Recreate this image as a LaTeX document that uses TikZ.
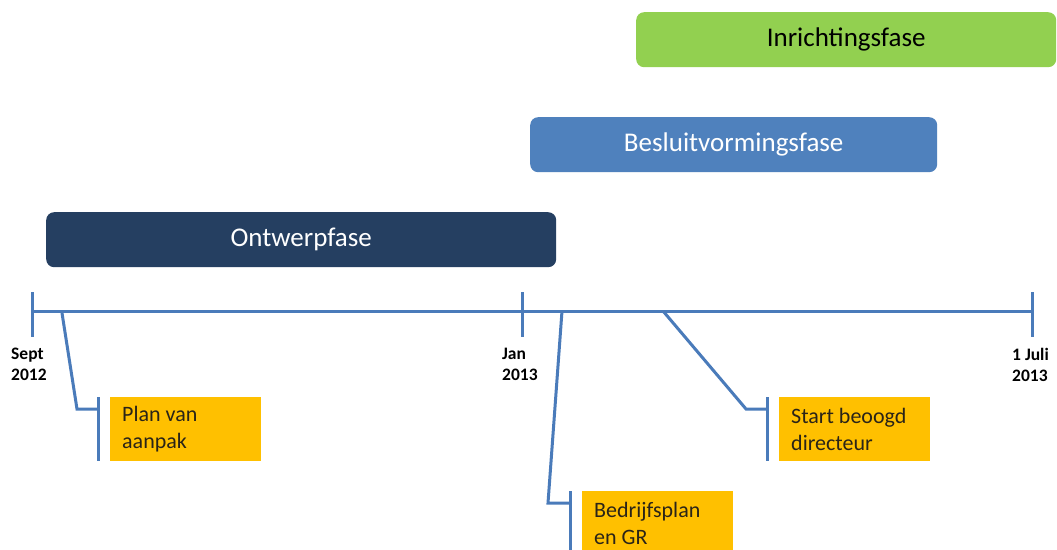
\documentclass[tikz,border=0pt]{standalone}
\usepackage{fontspec}
\setmainfont{Carlito}
\usetikzlibrary{calc}
\definecolor{lineblue}{HTML}{4A7BBA}
\definecolor{navy}{HTML}{253F61}
\definecolor{midblue}{HTML}{4F81BD}
\definecolor{phgreen}{HTML}{92D050}
\definecolor{phorange}{HTML}{FFC000}
\definecolor{darktext}{HTML}{2A2418}
\begin{document}
\begin{tikzpicture}[x=1pt,y=-1pt,
  phase/.style={rectangle, rounded corners=8pt, minimum height=55pt, inner sep=0pt, anchor=north west, font=\fontsize{27}{32}\selectfont},
  event/.style={rectangle, fill=phorange, text=darktext, anchor=north west, minimum height=64pt, text width=127pt, inner xsep=12pt, inner ysep=0pt, align=flush left, font=\fontsize{22}{27}\selectfont},
  datelbl/.style={anchor=north west, inner sep=0pt, align=flush left, font=\fontsize{17.5}{21}\selectfont\bfseries},
  axis/.style={draw=lineblue, line width=3pt},
  conn/.style={draw=lineblue, line width=3pt, line join=miter}]
\useasboundingbox (0,0) rectangle (1057,549);
\clip (0,0) rectangle (1057,549);
\fill[white] (0,0) rectangle (1057,549);

% phases
\node[phase, fill=phgreen, text=black, minimum width=420pt] (inr) at (636,12) {Inrichtingsfase};
\node[phase, fill=midblue, text=white, minimum width=407pt] (bes) at (530,117) {Besluitvormingsfase};
\node[phase, fill=navy, text=white, minimum width=510pt] (ont) at (46,212) {Ontwerpfase};

% timeline
\coordinate (t0) at (32,311);
\coordinate (t1) at (522,311);
\coordinate (t2) at (1032,311);
\draw[axis] (t0) -- (t2);
\foreach \t in {t0,t1,t2} {
  \draw[axis] ($(\t)+(0,-19)$) -- ($(\t)+(0,26)$);
}

% date labels
\node[datelbl] (d0) at (11,348) {Sept\\2012};
\node[datelbl] (d1) at (502,348) {Jan\\2013};
\node[datelbl] (d2) at (1012,348) {1 Juli\\2013};

% events
\node[event] (plan) at (110,397) {Plan van\\aanpak};
\node[event] (start) at (779,397) {Start beoogd\\directeur};
\node[event] (bedr) at (582,491) {Bedrijfsplan\\en GR};

% bars beside events
\foreach \e in {plan,start,bedr} {
  \draw[conn] ($(\e.north west)+(-12,0)$) coordinate (\e-bt) -- ($(\e.south west)+(-12,0)$) coordinate (\e-bb);
}

% connectors
\coordinate (c1) at (62,313);
\coordinate (k1) at (77,409);
\draw[conn] (c1) -- (k1) -- (k1 -| plan-bt);

\coordinate (c2) at (562,311);
\coordinate (k2) at (548,503);
\draw[conn] (c2) -- (k2) -- (k2 -| bedr-bt);

\coordinate (c3) at (663,311);
\coordinate (k3) at (746,409);
\draw[conn] (c3) -- (k3) -- (k3 -| start-bt);
\end{tikzpicture}
\end{document}
